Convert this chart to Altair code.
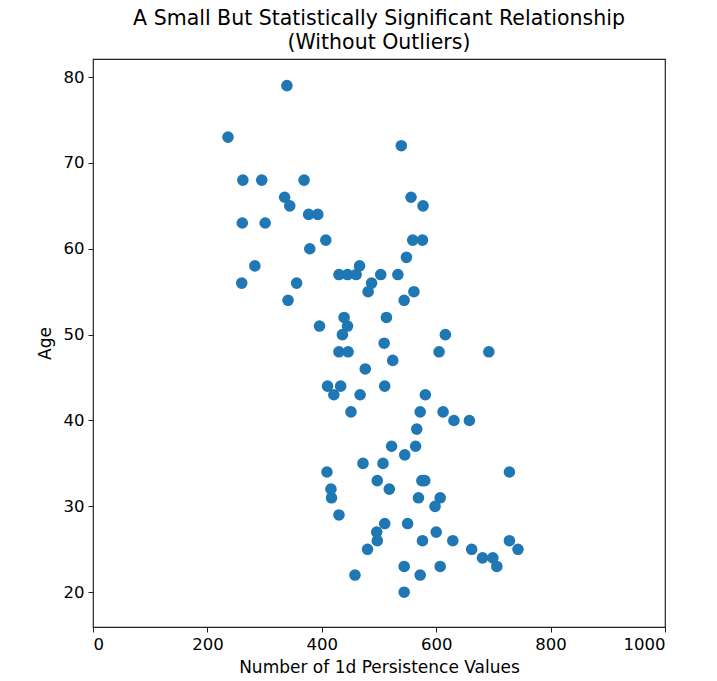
import altair as alt
import pandas as pd

# Number of 1d persistence values per subject and the subject's age
persistence = [
    339, 236, 539, 262, 295, 369, 335, 556, 344, 577, 377, 393, 261, 301,
    407, 559, 576, 379, 548, 283, 466, 430, 445, 460, 503, 533, 260, 356,
    487, 481, 561, 341, 544, 439, 513, 396, 445, 436, 616, 509, 430, 446,
    605, 692, 524, 476, 410, 433, 510, 421, 467, 581, 451, 572, 612, 631,
    658, 566, 522, 564, 545, 472, 507, 409, 728, 497, 575, 580, 416, 518,
    417, 569, 607, 598, 430, 510, 550, 496, 600, 497, 576, 629, 728, 480,
    662, 743, 681, 699, 544, 607, 706, 458, 572, 544,
]
age = [
    79, 73, 72, 68, 68, 68, 66, 66, 65, 65, 64, 64, 63, 63,
    61, 61, 61, 60, 59, 58, 58, 57, 57, 57, 57, 57, 56, 56,
    56, 55, 55, 54, 54, 52, 52, 51, 51, 50, 50, 49, 48, 48,
    48, 48, 47, 46, 44, 44, 44, 43, 43, 43, 41, 41, 41, 40,
    40, 39, 37, 37, 36, 35, 35, 34, 34, 33, 33, 33, 32, 32,
    31, 31, 31, 30, 29, 28, 28, 27, 27, 26, 26, 26, 26, 25,
    25, 25, 24, 24, 23, 23, 23, 22, 22, 20,
]

x_ticks = [0, 200, 400, 600, 800, 1000]
y_ticks = [20, 30, 40, 50, 60, 70, 80]

df = pd.DataFrame({"persistence": persistence, "age": age})

font = "DejaVu Sans"

chart = (
    alt.Chart(df)
    .mark_circle(size=135, color="#1f77b4", opacity=1)
    .encode(
        x=alt.X(
            "persistence:Q",
            scale=alt.Scale(domain=[0, 1000], nice=False, zero=False),
            axis=alt.Axis(
                values=x_ticks,
                format="d",
                title="Number of 1d Persistence Values",
                titlePadding=7,
            ),
        ),
        y=alt.Y(
            "age:Q",
            scale=alt.Scale(domain=[15.95, 82.1], nice=False, zero=False),
            axis=alt.Axis(values=y_ticks, format="d", title="Age", titlePadding=9),
        ),
    )
    .properties(
        width=572,
        height=568,
        title=alt.TitleParams(
            text=[
                "A Small But Statistically Significant Relationship",
                "(Without Outliers)",
            ],
            font=font,
            fontSize=20.5,
            fontWeight="normal",
            color="black",
            anchor="middle",
            offset=6,
            lineHeight=24,
        ),
        autosize=alt.AutoSizeParams(type="none"),
        padding={"left": 93, "top": 59, "right": 52, "bottom": 54},
    )
    .configure_view(stroke="#222222", strokeWidth=1.2)
    .configure_axis(
        grid=False,
        domain=False,
        tickColor="#222222",
        tickSize=5,
        tickWidth=1,
        labelFont=font,
        labelFontSize=16.5,
        labelColor="black",
        labelPadding=4,
        titleFont=font,
        titleFontSize=17,
        titleFontWeight="normal",
        titleColor="black",
    )
)

chart.save("out.html", embed_options={"renderer": "svg", "actions": False})
